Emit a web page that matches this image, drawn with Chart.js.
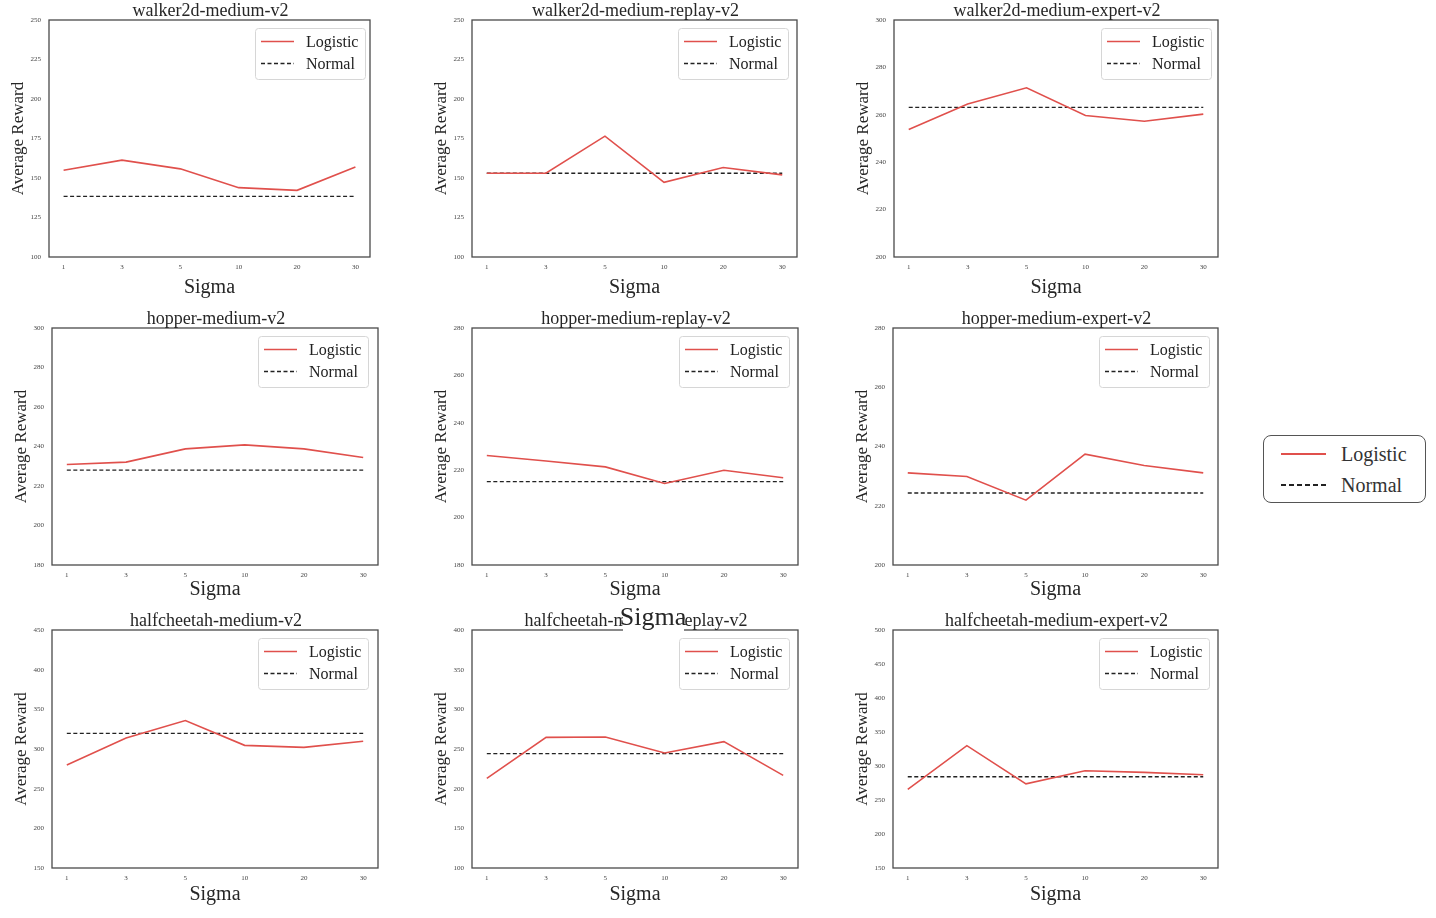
<!DOCTYPE html>
<html>
<head>
<meta charset="utf-8">
<script src="https://cdn.jsdelivr.net/npm/chart.js@4.4.1/dist/chart.umd.min.js"></script>
<style>
    body {
        margin: 0;
        width: 1436px;
        height: 918px;
        position: relative;
        overflow: hidden;
        background: #fff;
        font-family: 'Liberation Serif', serif;
    }
    canvas.panel {
        position: absolute;
    }
    #bigLegend {
        position: absolute;
        left: 1263px;
        top: 435px;
        width: 163px;
        height: 68px;
        border: 1px solid #555;
        border-radius: 8px;
        box-sizing: border-box;
        color: #333;
        font-size: 20px;
    }
    #bigLegend .row {
        position: absolute;
        left: 0;
        height: 24px;
        line-height: 24px;
    }
    #bigLegend .swatch {
        position: absolute;
        left: 17px;
        width: 45px;
        height: 2px;
        top: 11px;
    }
    #bigLegend .solid {
        background: #e0504c;
    }
    #bigLegend .dashed {
        background-image: repeating-linear-gradient(to right, #222 0 5px, transparent 5px 8px);
    }
    #bigLegend .txt {
        position: absolute;
        left: 77px;
        white-space: nowrap;
    }
</style>
</head>
<body>
<div id="bigLegend">
    <div class="row" style="top:6px"><div class="swatch solid"></div><span class="txt">Logistic</span></div>
    <div class="row" style="top:37px"><div class="swatch dashed"></div><span class="txt">Normal</span></div>
</div>
<script>
const sigmaLabels = ['1', '3', '5', '10', '20', '30'];

const titles = [
    'walker2d-medium-v2', 'walker2d-medium-replay-v2', 'walker2d-medium-expert-v2',
    'hopper-medium-v2', 'hopper-medium-replay-v2', 'hopper-medium-expert-v2',
    'halfcheetah-medium-v2', 'halfcheetah-medium-replay-v2', 'halfcheetah-medium-expert-v2',
];

// Logistic
const logWalkerM = [154.9, 161.3, 155.8, 143.9, 142.2, 157.0];
const logWalkerMR = [153.0, 153.0, 176.5, 147.3, 156.6, 152.0];
const logWalkerME = [253.8, 264.6, 271.4, 259.7, 257.3, 260.3];
const logHopperM = [230.9, 232.1, 238.8, 240.8, 238.8, 234.4];
const logHopperMR = [226.2, 223.9, 221.4, 214.4, 220.0, 216.8];
const logHopperME = [231.1, 229.9, 221.9, 237.4, 233.6, 231.1];
const logCheetahM = [279.8, 313.9, 335.8, 304.6, 302.1, 309.7];
const logCheetahMR = [212.9, 264.7, 265.1, 244.9, 259.3, 216.7];
const logCheetahME = [265.5, 329.9, 273.8, 293.0, 290.6, 287.1];

// Normal
const normWalkerM = [138.4, 138.4, 138.4, 138.4, 138.4, 138.4];
const normWalkerMR = [153.0, 153.0, 153.0, 153.0, 153.0, 153.0];
const normWalkerME = [263.1, 263.1, 263.1, 263.1, 263.1, 263.1];
const normHopperM = [228.0, 228.0, 228.0, 228.0, 228.0, 228.0];
const normHopperMR = [215.2, 215.2, 215.2, 215.2, 215.2, 215.2];
const normHopperME = [224.3, 224.3, 224.3, 224.3, 224.3, 224.3];
const normCheetahM = [319.8, 319.8, 319.8, 319.8, 319.8, 319.8];
const normCheetahMR = [244.1, 244.1, 244.1, 244.1, 244.1, 244.1];
const normCheetahME = [284.2, 284.2, 284.2, 284.2, 284.2, 284.2];

const logisticSeries = [logWalkerM, logWalkerMR, logWalkerME, logHopperM, logHopperMR, logHopperME, logCheetahM, logCheetahMR, logCheetahME];
const normalSeries = [normWalkerM, normWalkerMR, normWalkerME, normHopperM, normHopperMR, normHopperME, normCheetahM, normCheetahMR, normCheetahME];

// y axis ranges
const yMins = [100, 100, 200, 180, 180, 200, 150, 100, 150];
const yMaxs = [250, 250, 300, 300, 280, 280, 450, 400, 500];
const ySteps = [25, 25, 20, 20, 20, 20, 50, 50, 50];

// plot area boxes on the page (gap = Sigma label offset, lg = legend inset from right)
const boxes = [
    { x: 49, y: 20, w: 321, h: 237, gap: 31, lg: 5 },
    { x: 472, y: 20, w: 325, h: 237, gap: 31, lg: 9 },
    { x: 894, y: 20, w: 324, h: 237, gap: 31, lg: 7 },
    { x: 52, y: 328, w: 326, h: 237, gap: 25, lg: 10 },
    { x: 472, y: 328, w: 326, h: 237, gap: 25, lg: 9 },
    { x: 893, y: 328, w: 325, h: 237, gap: 25, lg: 9 },
    { x: 52, y: 630, w: 326, h: 238, gap: 27, lg: 10 },
    { x: 472, y: 630, w: 326, h: 238, gap: 27, lg: 9 },
    { x: 893, y: 630, w: 325, h: 238, gap: 27, lg: 9 },
];

const RED = '#e0504c';
const SERIF = "'Liberation Serif', serif";
const Y_AXIS_W = 52, TOP_SPACE = 28, X_AXIS_H = 46, RIGHT_PAD = 10;

const frame = {
    id: 'frame',
    afterDraw(chart) {
        const { ctx, chartArea: a } = chart;
        ctx.save();
        ctx.strokeStyle = '#4a4a4a';
        ctx.lineWidth = 1.3;
        ctx.strokeRect(a.left, a.top, a.right - a.left, a.bottom - a.top);
        ctx.restore();
    },
};

// title centred over the plot box, not the whole canvas
const plotTitle = {
    id: 'plotTitle',
    afterDraw(chart, args, opts) {
        const { ctx, chartArea: a } = chart;
        ctx.save();
        ctx.fillStyle = '#262626';
        ctx.font = '18px ' + SERIF;
        ctx.textAlign = 'center';
        ctx.textBaseline = 'middle';
        ctx.fillText(opts.text, (a.left + a.right) / 2 + 1, a.top - 9);
        ctx.restore();
    },
};

const boxLegend = {
    id: 'boxLegend',
    afterDatasetsDraw(chart, args, opts) {
        const { ctx, chartArea: a } = chart;
        const w = 110, h = 51;
        const x0 = a.right - opts.inset - w, y0 = a.top + 8;
        ctx.save();
        ctx.fillStyle = 'rgba(255,255,255,0.85)';
        ctx.strokeStyle = '#d6d6d6';
        ctx.lineWidth = 1;
        ctx.beginPath();
        ctx.roundRect(x0 + 0.5, y0 + 0.5, w, h, 3);
        ctx.fill();
        ctx.stroke();
        chart.data.datasets.forEach((ds, i) => {
            const ly = y0 + 13.5 + i * 22;
            ctx.strokeStyle = ds.borderColor;
            ctx.lineWidth = ds.borderWidth;
            ctx.setLineDash(ds.borderDash || []);
            ctx.beginPath();
            ctx.moveTo(x0 + 6, ly);
            ctx.lineTo(x0 + 39, ly);
            ctx.stroke();
            ctx.setLineDash([]);
            ctx.fillStyle = '#222';
            ctx.font = '16px ' + SERIF;
            ctx.textBaseline = 'middle';
            ctx.fillText(ds.label, x0 + 51, ly + 1);
        });
        ctx.restore();
    },
};

// stray "Sigma" that sits on top of the halfcheetah-medium-replay title
const straySigma = {
    id: 'straySigma',
    afterDraw(chart) {
        const { ctx, chartArea: a } = chart;
        ctx.save();
        ctx.fillStyle = '#fff';
        ctx.fillRect(a.left + 151, a.top - 27, 61, 29);
        ctx.fillStyle = '#262626';
        ctx.font = '26px ' + SERIF;
        ctx.textAlign = 'center';
        ctx.textBaseline = 'middle';
        ctx.fillText('Sigma', a.left + 181, a.top - 12);
        ctx.restore();
    },
};

boxes.forEach((b, i) => {
    const canvas = document.createElement('canvas');
    canvas.className = 'panel';
    const cw = b.w + Y_AXIS_W + RIGHT_PAD;
    const ch = b.h + TOP_SPACE + X_AXIS_H;
    canvas.width = cw;
    canvas.height = ch;
    canvas.style.left = (b.x - Y_AXIS_W) + 'px';
    canvas.style.top = (b.y - TOP_SPACE) + 'px';
    canvas.style.width = cw + 'px';
    canvas.style.height = ch + 'px';
    document.body.appendChild(canvas);

    const toPoints = vals => vals.map((v, k) => ({ x: k, y: v }));
    const plugins = [frame, plotTitle, boxLegend];
    if (i === 7) plugins.push(straySigma);

    new Chart(canvas.getContext('2d'), {
        type: 'line',
        data: {
            datasets: [
                {
                    label: 'Logistic',
                    data: toPoints(logisticSeries[i]),
                    borderColor: RED,
                    borderWidth: 1.6,
                    pointRadius: 0,
                    tension: 0,
                },
                {
                    label: 'Normal',
                    data: toPoints(normalSeries[i]),
                    borderColor: '#222',
                    borderWidth: 1.3,
                    borderDash: [4, 2.5],
                    pointRadius: 0,
                    tension: 0,
                },
            ],
        },
        options: {
            responsive: false,
            animation: false,
            events: [],
            layout: { padding: { top: TOP_SPACE, right: RIGHT_PAD, left: 0, bottom: 0 } },
            plugins: {
                legend: { display: false },
                tooltip: { enabled: false },
                title: { display: false },
                plotTitle: { text: titles[i] },
                boxLegend: { inset: b.lg },
            },
            scales: {
                x: {
                    type: 'linear',
                    min: -0.25,
                    max: sigmaLabels.length - 0.75,
                    afterBuildTicks: scale => {
                        scale.ticks = sigmaLabels.map((s, k) => ({ value: k }));
                    },
                    afterFit: scale => { scale.height = X_AXIS_H; },
                    grid: { display: false, drawTicks: false },
                    border: { display: false },
                    ticks: {
                        autoSkip: false,
                        maxRotation: 0,
                        padding: 6,
                        color: '#444',
                        font: { family: SERIF, size: 7 },
                        callback: v => sigmaLabels[v],
                    },
                    title: {
                        display: true,
                        text: 'Sigma',
                        color: '#262626',
                        font: { family: SERIF, size: 20 },
                        padding: { top: 0, bottom: 34 - b.gap },
                    },
                },
                y: {
                    min: yMins[i],
                    max: yMaxs[i],
                    afterFit: scale => { scale.width = Y_AXIS_W; },
                    grid: { display: false, drawTicks: false },
                    border: { display: false },
                    ticks: {
                        stepSize: ySteps[i],
                        padding: 8,
                        color: '#444',
                        font: { family: SERIF, size: 7 },
                    },
                    title: {
                        display: true,
                        text: 'Average Reward',
                        color: '#262626',
                        font: { family: SERIF, size: 17 },
                        padding: { top: 11, bottom: 0 },
                    },
                },
            },
        },
        plugins: plugins,
    });
});
</script>
</body>
</html>
